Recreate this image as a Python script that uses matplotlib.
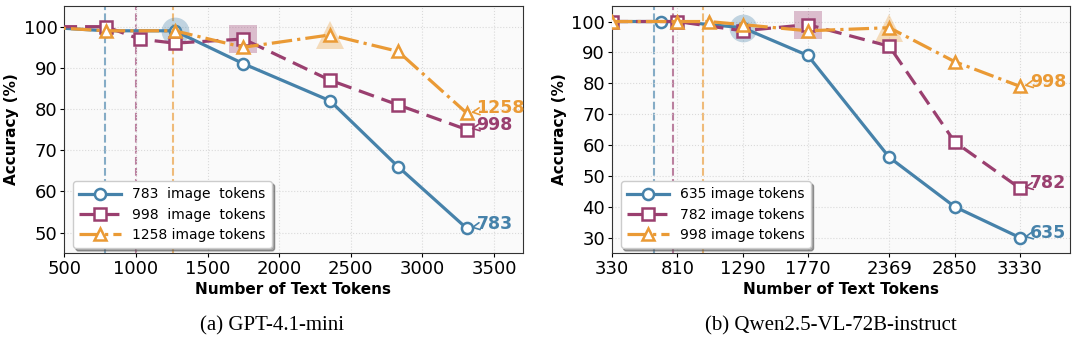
import matplotlib
matplotlib.use("Agg")
import matplotlib.pyplot as plt

# ---- data ----
# (a) GPT-4.1-mini
a_blue_x = [310, 790, 1270, 1750, 2355, 2830, 3310]
a_blue_y = [100, 99, 99, 91, 82, 66, 51]
a_purple_x = [310, 790, 1025, 1270, 1750, 2355, 2830, 3310]
a_purple_y = [100, 100, 97, 96, 97, 87, 81, 75]
a_orange_x = [310, 790, 1270, 1750, 2355, 2830, 3310]
a_orange_y = [100, 99, 99, 95, 98, 94, 79]
a_img_tokens = [783, 998, 1258]
a_highlight = [(1270, 99), (1750, 97), (2355, 98)]

# (b) Qwen2.5-VL-72B-instruct
b_blue_x = [330, 690, 810, 1290, 1770, 2369, 2850, 3330]
b_blue_y = [100, 100, 100, 98, 89, 56, 40, 30]
b_purple_x = [330, 810, 1290, 1770, 2369, 2850, 3330]
b_purple_y = [100, 100, 97, 99, 92, 61, 46]
b_orange_x = [330, 810, 1040, 1290, 1770, 2369, 2850, 3330]
b_orange_y = [100, 100, 100, 99, 97, 98, 87, 79]
b_img_tokens = [635, 782, 998]
b_highlight = [(1290, 98), (1770, 99), (2369, 98)]
b_xticks = [330, 810, 1290, 1770, 2369, 2850, 3330]

colors = ['#4682AA', '#9A3F6F', '#EA9A35']
markers = ['o', 's', '^']
styles = ['-', (0, (5, 2.5)), '-.']


def draw(ax, series, img_tokens, highlight, labels, ylim):
    ax.set_facecolor('#fafafa')
    for i, (xs, ys) in enumerate(series):
        c = colors[i]
        ax.axvline(img_tokens[i], color=c, ls='--', lw=1.5, alpha=0.65, zorder=1)
        ax.plot(xs, ys, color=c, ls=styles[i], lw=2.3, marker=markers[i],
                markersize=8, markerfacecolor='white', markeredgewidth=1.8,
                label=labels[i], zorder=3)
        hx, hy = highlight[i]
        ax.plot([hx], [hy], marker=markers[i], markersize=20, color=c,
                alpha=0.32, markeredgewidth=0, zorder=2)
        ax.annotate(str(img_tokens[i]), xy=(xs[-1], ys[-1]), xytext=(7, 3.5),
                    textcoords='offset points', color=c, fontsize=12.5,
                    fontweight='bold', ha='left', va='center',
                    arrowprops=dict(arrowstyle='->', color=c, lw=1.2,
                                    shrinkA=0, shrinkB=3))
    ax.set_ylim(*ylim)
    ax.grid(True, ls=':', color='#dadada', lw=0.8)
    ax.set_xlabel('Number of Text Tokens', fontsize=11, fontweight='bold', labelpad=3)
    ax.set_ylabel('Accuracy (%)', fontsize=11, fontweight='bold', labelpad=3)
    ax.tick_params(labelsize=13, length=3, pad=2)
    for s in ax.spines.values():
        s.set_color('#333333')
    leg = ax.legend(loc='lower left', bbox_to_anchor=(0.019, 0.02),
                    borderaxespad=0, fontsize=10, shadow=True, framealpha=1,
                    handlelength=3.0, handletextpad=0.8, labelspacing=0.45,
                    borderpad=0.45)
    leg.get_frame().set_edgecolor('#cccccc')


fig = plt.figure(figsize=(10.8, 3.52), dpi=100)
ax1 = fig.add_axes([0.0596, 0.281, 0.4243, 0.7017])
ax2 = fig.add_axes([0.5667, 0.281, 0.4243, 0.7017])

draw(ax1, [(a_blue_x, a_blue_y), (a_purple_x, a_purple_y), (a_orange_x, a_orange_y)],
     a_img_tokens, a_highlight,
     ['783  image  tokens', '998  image  tokens', '1258 image tokens'], (45, 105))
ax1.set_xlim(500, 3700)
ax1.set_xticks([500, 1000, 1500, 2000, 2500, 3000, 3500])
ax1.set_yticks([50, 60, 70, 80, 90, 100])

draw(ax2, [(b_blue_x, b_blue_y), (b_purple_x, b_purple_y), (b_orange_x, b_orange_y)],
     b_img_tokens, b_highlight,
     ['635 image tokens', '782 image tokens', '998 image tokens'], (25, 105))
ax2.set_xlim(330, 3700)
ax2.set_xticks(b_xticks)
ax2.set_yticks([30, 40, 50, 60, 70, 80, 90, 100])

fig.text(0.252, 0.074, '(a) GPT-4.1-mini', family='Liberation Serif',
         fontsize=15, ha='center', va='center')
fig.text(0.769, 0.074, '(b) Qwen2.5-VL-72B-instruct', family='Liberation Serif',
         fontsize=15, ha='center', va='center')

fig.savefig('out.png', dpi=100)
